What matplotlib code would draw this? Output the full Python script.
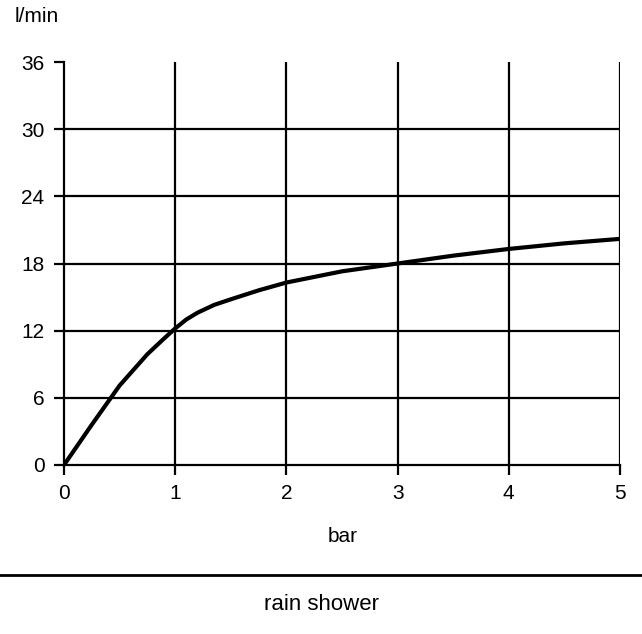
import matplotlib
matplotlib.use('Agg')
import matplotlib.pyplot as plt
import numpy as np

# pressure (bar) vs flow (l/min)
pressure = [0, 0.25, 0.5, 0.75, 0.9, 1.0, 1.1, 1.2, 1.35, 1.5, 1.75, 2.0, 2.5, 3.0, 3.5, 4.0, 4.5, 5.0]
flow = [0, 3.6, 7.1, 9.9, 11.3, 12.2, 13.0, 13.6, 14.3, 14.8, 15.6, 16.3, 17.3, 18.0, 18.7, 19.3, 19.8, 20.2]

x_ticks = [0, 1, 2, 3, 4, 5]
y_ticks = [0, 6, 12, 18, 24, 30, 36]

plt.rcParams['font.family'] = ['Liberation Sans', 'DejaVu Sans']

fig = plt.figure(figsize=(6.42, 6.34), dpi=100)
ax = fig.add_axes([64/642, 1-465/634, 556/642, 403/634])

# grid lines drawn by hand so the top row stays open, as in the original
for v in x_ticks[1:]:
    ax.plot([v, v], [0, 36], color='black', lw=1.6, zorder=1)
for v in y_ticks[1:-1]:
    ax.plot([0, 5], [v, v], color='black', lw=1.6, zorder=1)

ax.plot(pressure, flow, color='black', lw=3, zorder=3, solid_capstyle='butt')

ax.set_xlim(0, 5)
ax.set_ylim(0, 36)
ax.set_xticks(x_ticks)
ax.set_yticks(y_ticks)
ax.tick_params(direction='out', length=7, width=1.6, labelsize=15, pad=7)
for s in ['top', 'right']:
    ax.spines[s].set_visible(False)
for s in ['left', 'bottom']:
    ax.spines[s].set_linewidth(1.6)

fig.text(37/642, 1-16/634, 'l/min', ha='center', va='center', fontsize=15)
fig.text(343/642, 1-537/634, 'bar', ha='center', va='center', fontsize=15)
fig.add_artist(plt.Line2D([0, 1], [1-575/634, 1-575/634], color='black', lw=2))
fig.text(322/642, 1-604/634, 'rain shower', ha='center', va='center', fontsize=16)

fig.savefig('out.png', dpi=100)
